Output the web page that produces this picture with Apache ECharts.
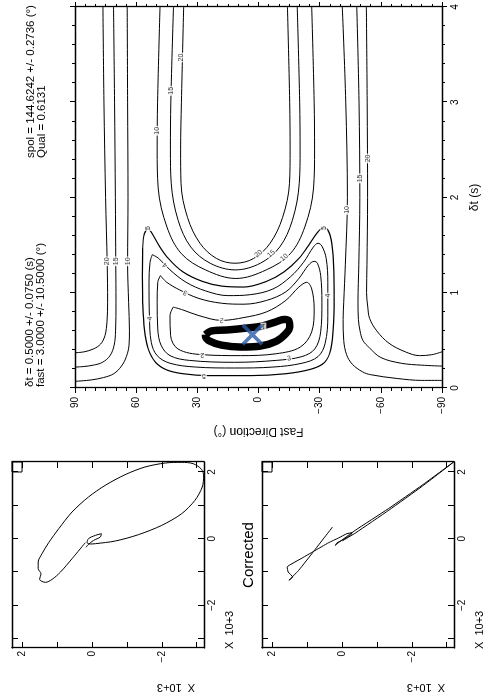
<!DOCTYPE html>
<html><head><meta charset="utf-8">
<script src="https://cdn.jsdelivr.net/npm/echarts@6/dist/echarts.min.js"></script>
<style>
html,body{margin:0;padding:0;width:486px;height:693px;overflow:hidden;background:#fff}
#chart{position:absolute;left:0;top:0;width:693px;height:486px;transform-origin:0 0;transform:translate(0,693px) rotate(-90deg);}
</style></head><body><div id="chart"></div>
<script>
// ---------- data ----------
const pmTicks = [-3, -2, -1, 0, 1, 2];
const pmLabels = [-2, 0, 2];
const dtTicks = [0, 1, 2, 3, 4];
const phiTicks = [-90, -60, -30, 0, 30, 60, 90];

const originalPM = [[-0.12,0.19],[-0.60,0.57],[-1.00,0.90],[-1.22,1.14],[-1.31,1.33],[-1.22,1.50],[-1.05,1.46],[-0.90,1.54],[-0.70,1.54],[-0.45,1.43],[-0.12,1.24],[0.30,0.95],[0.80,0.57],[1.25,0.10],[1.60,-0.38],[1.92,-0.95],[2.15,-1.52],[2.27,-2.10],[2.29,-2.57],[2.25,-2.90],[2.08,-3.14],[1.88,-3.20],[1.55,-3.16],[1.15,-2.95],[0.75,-2.57],[0.40,-2.00],[0.12,-1.33],[-0.07,-0.67],[-0.15,-0.10],[-0.16,0.05],[-0.12,0.14],[0.00,0.10],[0.10,-0.10],[0.15,-0.27],[0.05,-0.24],[-0.05,-0.05],[-0.18,0.11],[-0.26,0.17]];

const correctedPM = [[0.35,0.27],[-0.38,0.81],[-0.95,1.24],[-1.25,1.52],[-1.15,1.41],[-1.00,1.54],[-0.85,1.57],[-0.75,1.43],[-0.58,1.14],[-0.38,0.81],[-0.12,0.38],[0.02,0.10],[0.15,-0.14],[0.18,-0.29],[0.10,-0.24],[-0.05,0.00],[-0.12,0.14],[-0.20,0.19],[-0.12,0.10],[0.25,-0.38],[0.90,-1.33],[1.60,-2.29],[2.30,-3.20],[1.58,-2.31],[0.86,-1.35],[0.18,-0.40],[-0.06,-0.02]];

// contours: [delta t (s), fast direction (deg)]
const left20 = [[4,76.3],[3,75.8],[2,75.0],[1.3,74.2],[0.9,74.0],[0.7,74.3],[0.55,75.3],[0.46,77.5],[0.41,81],[0.38,85.5],[0.37,90]];
const left15 = [[4,71.1],[3,70.6],[2,70.2],[1.3,70.0],[0.9,69.9],[0.6,70.1],[0.45,70.8],[0.34,72.8],[0.27,76.5],[0.24,81],[0.225,86],[0.22,90]];
const left10 = [[4,64.4],[3,64.2],[2,64.0],[1.3,64.2],[0.9,63.7],[0.6,63.3],[0.45,63.5],[0.33,64.8],[0.23,67.2],[0.15,71],[0.11,76],[0.085,82],[0.07,90]];
const right20 = [[4,-52.9],[3,-53.3],[2,-53.5],[1.3,-53.2],[1.0,-53.0],[0.85,-53.6],[0.73,-54.5],[0.6,-58],[0.47,-64],[0.38,-72],[0.34,-79],[0.35,-85],[0.38,-90]];
const right15 = [[4,-48.2],[3,-49.3],[2,-49.7],[1.3,-49.2],[0.9,-48.8],[0.72,-49],[0.6,-49.8],[0.5,-51.2],[0.42,-54.5],[0.32,-60],[0.26,-70],[0.24,-80],[0.23,-90]];
const right10 = [[4,-41.1],[3,-42.8],[2,-43.6],[1.3,-42.6],[0.9,-41.8],[0.72,-41.5],[0.5,-41.8],[0.35,-43.2],[0.25,-46],[0.17,-51],[0.14,-55],[0.1,-68],[0.08,-80],[0.08,-90]];
const u20 = [[4,-14.2],[3,-15.3],[2.5,-15.5],[2.15,-15.2],[1.79,-11.8],[1.52,-5.7],[1.36,2.4],[1.31,11.5],[1.36,20.6],[1.52,28.7],[1.79,34.8],[2.15,38.0],[2.5,38.2],[3,37.8],[4,36.7]];
const u15 = [[4,-19],[3,-20.2],[2.5,-20.4],[2.15,-20],[1.76,-16.6],[1.48,-10.4],[1.31,-0.9],[1.24,11.4],[1.31,23.7],[1.48,33.2],[1.76,39.4],[2.15,42.8],[2.5,43.2],[3,43],[4,41.7]];
const u10 = [[4,-26.1],[3,-27.3],[2.5,-27.5],[2.1,-27],[1.69,-22.7],[1.41,-15.6],[1.24,-3.8],[1.15,11.1],[1.24,26],[1.41,37.8],[1.69,44.9],[2.1,49.2],[2.5,49.7],[3,49.5],[4,48.3]];
const contour5 = [[1.68,54.1],[1.62,56.0],[1.46,56.8],[1.18,57.0],[0.90,56.8],[0.62,56.0],[0.41,54.1],[0.27,50.5],[0.19,45.0],[0.15,37.1],[0.13,24.5],[0.13,3.9],[0.15,-13.4],[0.20,-26.1],[0.27,-32.4],[0.41,-35.5],[0.69,-36.8],[1.04,-37.1],[1.39,-36.6],[1.57,-35.5],[1.67,-33.6],[1.68,-31.6],[1.64,-29.2],[1.52,-25.3],[1.36,-19.8],[1.22,-12.6],[1.12,-4.0],[1.06,7.1],[1.07,18.1],[1.12,27.6],[1.22,37.1],[1.36,44.2],[1.50,48.9],[1.62,52.1],[1.68,54.1]];
const contour4 = [[1.40,52.1],[1.32,53.2],[1.11,53.7],[0.76,53.5],[0.48,52.6],[0.34,49.7],[0.26,43.4],[0.22,30.8],[0.21,11.8],[0.22,-7.1],[0.26,-21.3],[0.33,-29.2],[0.47,-32.7],[0.76,-34.0],[1.11,-34.0],[1.36,-33.2],[1.49,-31.1],[1.52,-29.2],[1.48,-26.9],[1.32,-22.1],[1.17,-15.8],[1.04,-7.1],[0.98,4.0],[0.97,15.0],[1.02,26.0],[1.11,35.5],[1.24,43.4],[1.36,48.9],[1.40,52.1]];
const contour3 = [[1.18,48.1],[1.11,49.4],[0.90,49.7],[0.62,49.4],[0.45,47.8],[0.34,43.4],[0.29,33.9],[0.27,11.8],[0.29,-8.7],[0.33,-21.3],[0.41,-27.6],[0.59,-30.5],[0.90,-31.1],[1.18,-30.5],[1.31,-28.9],[1.33,-27.3],[1.29,-24.5],[1.15,-19.8],[1.01,-13.4],[0.92,-4.0],[0.88,7.1],[0.89,18.1],[0.94,29.2],[1.03,38.7],[1.11,45.0],[1.18,48.1]];
const contour2 = [[0.85,41.8],[0.76,43.4],[0.55,43.1],[0.41,39.5],[0.35,27.6],[0.34,8.7],[0.36,-8.7],[0.43,-20.5],[0.59,-26.1],[0.83,-27.3],[1.04,-26.1],[1.11,-23.7],[1.06,-19.8],[0.92,-13.4],[0.80,-4.0],[0.74,7.1],[0.71,18.1],[0.76,29.2],[0.82,37.1],[0.85,41.8]];
const contour1 = [[0.56,26.0],[0.60,22.9],[0.61,15.0],[0.63,5.5],[0.65,-1.6],[0.69,-7.9],[0.72,-12.6],[0.70,-15.0],[0.64,-15.3],[0.57,-13.4],[0.49,-8.7],[0.44,-0.8],[0.43,8.7],[0.45,18.1],[0.49,23.7],[0.54,26.0],[0.56,26.0]];

// contour labels: [delta t, fast, text, rotation]
const contourLabels = [
  [1.33,74.1,'20',0],[1.33,70.0,'15',0],[1.33,64.2,'10',0],
  [1.87,-43.3,'10',0],[2.20,-49.7,'15',0],[2.41,-53.6,'20',0],
  [2.70,49.6,'10',0],[3.12,43.0,'15',0],[3.47,37.9,'20',0],
  [1.41,0,'20',-50],[1.41,-6.3,'15',-50],[1.37,-12.6,'10',-50],
  [1.68,54.1,'5',0],[1.68,-32.0,'5',0],[0.13,26.8,'5',90],
  [1.29,45.8,'4',46],[0.73,53.4,'4',0],[0.97,-34.0,'4',0],
  [1.00,35.8,'3',65],[0.31,-15.0,'3',-80],
  [0.71,18.1,'2',85],[0.35,27.6,'2',90],
  [0.65,-2.4,'1',90]
];
const bestFit = [[0.56, 3]];

// ---------- layout ----------
const FONT = 'Liberation Sans';
const P1 = {left:45, top:12, width:186, height:192};
const P2 = {left:45, top:262, width:186, height:192};
const CT = {left:305, top:75, width:381, height:380};
const minus = v => (v < 0 ? '\u2212' + Math.abs(v) : String(v));
const lineBlack = {color:'#000', width:1.3};

function pmX(grid, pos, labels) {
  return {type:'value', gridIndex:grid, position:pos, min:-3.28, max:2.3,
    axisLine:{show:true, onZero:false, lineStyle:lineBlack},
    axisTick:{show:true, inside:true, length:6, customValues:pmTicks, lineStyle:{color:'#000', width:1}},
    axisLabel:{show:labels, customValues:pmLabels, margin:3, color:'#000', fontSize:10, fontFamily:FONT, formatter:minus},
    splitLine:{show:false}};
}
function pmY(grid, pos, labels) {
  return {type:'value', gridIndex:grid, position:pos, min:-3.21, max:2.29,
    axisLine:{show:true, onZero:false, lineStyle:lineBlack},
    axisTick:{show:true, inside:true, length:6, customValues:pmTicks, lineStyle:{color:'#000', width:1}},
    axisLabel:{show:labels, customValues:pmLabels, margin:3, color:'#000', fontSize:10, fontFamily:FONT, formatter:minus},
    splitLine:{show:false}};
}
function ctX(pos, labels) {
  const a = {type:'value', gridIndex:2, position:pos, min:0, max:4, interval:1,
    axisLine:{show:true, onZero:false, lineStyle:lineBlack},
    axisTick:{show:true, inside:false, length:5, lineStyle:{color:'#000', width:1}},
    minorTick:{show:true, splitNumber:5, length:3, lineStyle:{color:'#000', width:1}},
    axisLabel:{show:labels, margin:8, color:'#000', fontSize:10, fontFamily:FONT},
    splitLine:{show:false}, minorSplitLine:{show:false}};
  if (labels) { a.name = '\u03b4t (s)'; a.nameLocation = 'middle'; a.nameGap = 27;
    a.nameTextStyle = {color:'#000', fontSize:12, fontFamily:FONT}; }
  return a;
}
function ctY(pos, labels) {
  const a = {type:'value', gridIndex:2, position:pos, min:-90, max:90, interval:30,
    axisLine:{show:true, onZero:false, lineStyle:lineBlack},
    axisTick:{show:true, inside:false, length:5, lineStyle:{color:'#000', width:1}},
    minorTick:{show:true, splitNumber:6, length:3, lineStyle:{color:'#000', width:1}},
    axisLabel:{show:labels, margin:9, color:'#000', fontSize:10, fontFamily:FONT, formatter:minus},
    splitLine:{show:false}, minorSplitLine:{show:false}};
  if (labels) { a.name = 'Fast Direction (\u00b0)'; a.nameLocation = 'middle'; a.nameGap = 32;
    a.nameTextStyle = {color:'#000', fontSize:12, fontFamily:FONT}; }
  return a;
}
function contourSeries(data, width) {
  return {type:'line', xAxisIndex:4, yAxisIndex:4, data:data, smooth:0.35, symbol:'none',
    showSymbol:false, clip:true, lineStyle:{color:'#000', width:width || 1}, z:3};
}
function txt(x, y, s, size, extra) {
  return Object.assign({type:'text', x:x, y:y, silent:true,
    style:{text:s, fill:'#000', fontSize:size, fontFamily:FONT, align:'left', verticalAlign:'middle'}}, extra || {});
}

const chart = echarts.init(document.getElementById('chart'), null, {renderer:'canvas'});
const xPath = 'path://M0,2.8L2.8,0L12,9.2L21.2,0L24,2.8L14.8,12L24,21.2L21.2,24L12,14.8L2.8,24L0,21.2L9.2,12Z';

chart.setOption({
  animation:false,
  backgroundColor:'#fff',
  grid:[P1, P2, CT].map(g => Object.assign({containLabel:false}, g)),
  xAxis:[pmX(0,'bottom',true), pmX(0,'top',false), pmX(1,'bottom',true), pmX(1,'top',false), ctX('bottom',true), ctX('top',false)],
  yAxis:[pmY(0,'left',true), pmY(0,'right',false), pmY(1,'left',true), pmY(1,'right',false), ctY('left',true), ctY('right',false)],
  series:[
    {type:'line', xAxisIndex:0, yAxisIndex:0, data:originalPM, smooth:0.3, symbol:'none', clip:true, lineStyle:{color:'#000', width:1}},
    {type:'line', xAxisIndex:2, yAxisIndex:2, data:correctedPM, smooth:0.15, symbol:'none', clip:true, lineStyle:{color:'#000', width:1}},
    contourSeries(left20), contourSeries(left15), contourSeries(left10),
    contourSeries(right20), contourSeries(right15), contourSeries(right10),
    contourSeries(u20), contourSeries(u15), contourSeries(u10),
    contourSeries(contour5, 1.2), contourSeries(contour4), contourSeries(contour3), contourSeries(contour2),
    contourSeries(contour1, 7.5),
    {type:'scatter', xAxisIndex:4, yAxisIndex:4, symbolSize:1, z:5,
      itemStyle:{color:'rgba(0,0,0,0)'},
      data:contourLabels.map(d => ({value:[d[0], d[1]], name:d[2],
        label:{show:true, position:'inside', formatter:d[2], rotate:d[3], color:'#000', fontSize:7, fontFamily:FONT,
          backgroundColor:'#fff', padding:[0,1]}}))},
    {type:'scatter', xAxisIndex:4, yAxisIndex:4, data:bestFit, symbol:xPath, symbolSize:22, z:6,
      itemStyle:{color:'#2a5aa8'}}
  ],
  graphic:[
    txt(CT.left + 1, 30, '\u03b4t = 0.5000 +/- 0.0750 (s)', 11.5),
    txt(CT.left + 1, 41, 'fast = 3.0000 +/- 10.5000 (\u00b0)', 11.5),
    txt(535, 31, 'spol = 144.6242 +/- 0.2736 (\u00b0)', 11.5),
    txt(535, 42, 'Qual = 0.6131', 11.5),
    txt(P2.left + P2.width / 2, 249, 'Corrected', 15, {style:{text:'Corrected', fill:'#000', fontSize:15, fontFamily:FONT, align:'center', verticalAlign:'middle'}}),
    txt(P1.left - 1, P1.top + P1.height + 26, 'X  10+3', 11),
    txt(P2.left - 1, P2.top + P2.height + 26, 'X  10+3', 11),
    {type:'text', x:6, y:P1.top + 164, rotation:Math.PI / 2, silent:true,
      style:{text:'X  10+3', fill:'#000', fontSize:11, fontFamily:FONT, align:'center', verticalAlign:'middle'}},
    {type:'text', x:6, y:P2.top + 164, rotation:Math.PI / 2, silent:true,
      style:{text:'X  10+3', fill:'#000', fontSize:11, fontFamily:FONT, align:'center', verticalAlign:'middle'}},
    {type:'rect', shape:{x:P1.left + P1.width - 10, y:P1.top, width:10, height:10}, silent:true,
      style:{fill:'none', stroke:'#000', lineWidth:1}},
    {type:'rect', shape:{x:P2.left + P2.width - 10, y:P2.top, width:10, height:10}, silent:true,
      style:{fill:'none', stroke:'#000', lineWidth:1}}
  ]
});
</script></body></html>
